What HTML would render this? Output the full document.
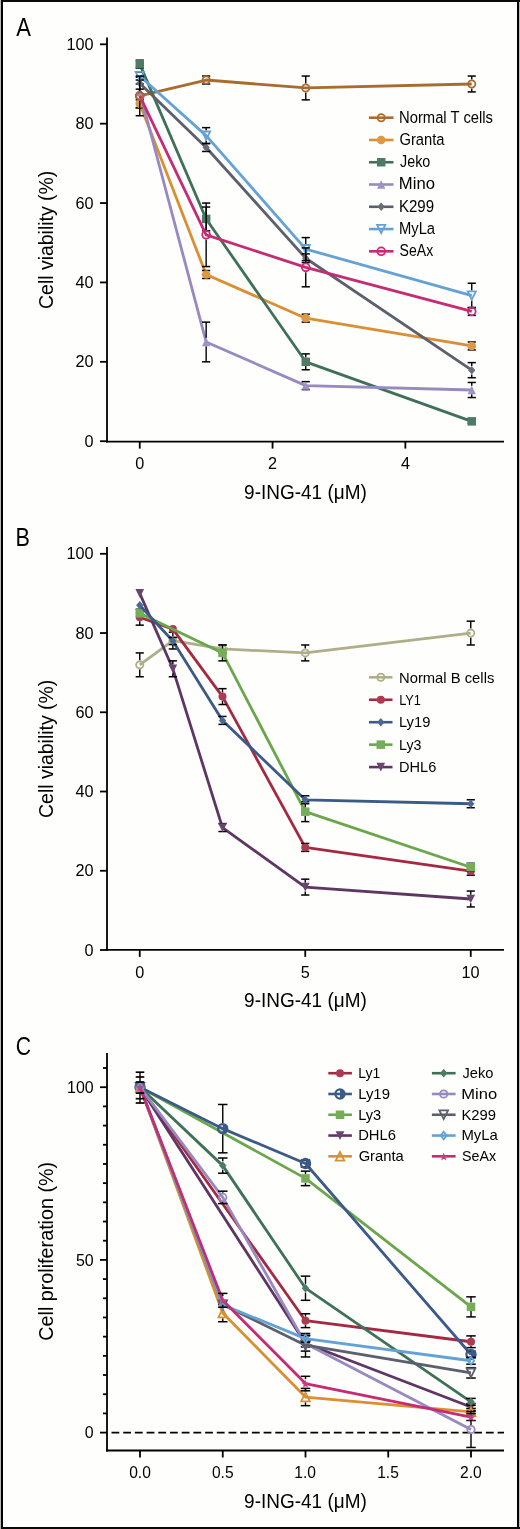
<!DOCTYPE html><html><head><meta charset="utf-8"><style>html,body{margin:0;padding:0;background:#fefefd;overflow:hidden;}svg{display:block;-webkit-font-smoothing:antialiased;will-change:transform;}</style></head><body>
<svg width="520" height="1529" viewBox="0 0 520 1529" font-family='"Liberation Sans", sans-serif'>
<rect x="0" y="0" width="520" height="1529" fill="#fefefd"/>
<line x1="107.0" y1="37.5" x2="107.0" y2="442.5" stroke="#000" stroke-width="1.8"/>
<line x1="106.1" y1="441.6" x2="504.0" y2="441.6" stroke="#000" stroke-width="1.8"/>
<line x1="100.00" y1="441.20" x2="107.00" y2="441.20" stroke="#000" stroke-width="1.8"/>
<text x="84.59" y="446.80" font-size="16.25" textLength="9.04" lengthAdjust="spacingAndGlyphs" fill="#000" >0</text>
<line x1="100.00" y1="361.82" x2="107.00" y2="361.82" stroke="#000" stroke-width="1.8"/>
<text x="75.57" y="367.42" font-size="16.25" textLength="18.08" lengthAdjust="spacingAndGlyphs" fill="#000" >20</text>
<line x1="100.00" y1="282.44" x2="107.00" y2="282.44" stroke="#000" stroke-width="1.8"/>
<text x="75.57" y="288.04" font-size="16.25" textLength="18.08" lengthAdjust="spacingAndGlyphs" fill="#000" >40</text>
<line x1="100.00" y1="203.06" x2="107.00" y2="203.06" stroke="#000" stroke-width="1.8"/>
<text x="75.57" y="208.66" font-size="16.25" textLength="18.08" lengthAdjust="spacingAndGlyphs" fill="#000" >60</text>
<line x1="100.00" y1="123.68" x2="107.00" y2="123.68" stroke="#000" stroke-width="1.8"/>
<text x="75.57" y="129.28" font-size="16.25" textLength="18.08" lengthAdjust="spacingAndGlyphs" fill="#000" >80</text>
<line x1="100.00" y1="44.30" x2="107.00" y2="44.30" stroke="#000" stroke-width="1.8"/>
<text x="66.51" y="49.90" font-size="16.25" textLength="27.12" lengthAdjust="spacingAndGlyphs" fill="#000" >100</text>
<line x1="139.75" y1="441.60" x2="139.75" y2="448.60" stroke="#000" stroke-width="1.8"/>
<text x="135.22" y="468.80" font-size="16.25" textLength="9.04" lengthAdjust="spacingAndGlyphs" fill="#000" >0</text>
<line x1="272.55" y1="441.60" x2="272.55" y2="448.60" stroke="#000" stroke-width="1.8"/>
<text x="268.04" y="468.80" font-size="16.25" textLength="9.04" lengthAdjust="spacingAndGlyphs" fill="#000" >2</text>
<line x1="405.35" y1="441.60" x2="405.35" y2="448.60" stroke="#000" stroke-width="1.8"/>
<text x="400.88" y="468.80" font-size="16.25" textLength="9.04" lengthAdjust="spacingAndGlyphs" fill="#000" >4</text>
<text x="244.10" y="498.50" font-size="20.51" textLength="122.70" lengthAdjust="spacingAndGlyphs" fill="#000" >9-ING-41 (μM)</text>
<text transform="translate(52.90,308.00) rotate(-90)" x="-0.97" y="0" font-size="20.65" textLength="138.29" lengthAdjust="spacingAndGlyphs">Cell viability (%)</text>
<text x="16.14" y="36.20" font-size="24.87" textLength="14.70" lengthAdjust="spacingAndGlyphs" fill="#000" >A</text>
<polyline points="139.75,95.90 206.15,80.02 305.75,87.96 471.75,83.99" fill="none" stroke="#A86C30" stroke-width="2.8" stroke-linejoin="round"/>
<line x1="139.75" y1="83.99" x2="139.75" y2="91.40" stroke="#000" stroke-width="1.4"/>
<line x1="139.75" y1="100.40" x2="139.75" y2="107.80" stroke="#000" stroke-width="1.4"/>
<line x1="135.65" y1="83.99" x2="143.85" y2="83.99" stroke="#000" stroke-width="1.5"/>
<line x1="135.65" y1="107.80" x2="143.85" y2="107.80" stroke="#000" stroke-width="1.5"/>
<line x1="202.05" y1="76.05" x2="210.25" y2="76.05" stroke="#000" stroke-width="1.5"/>
<line x1="202.05" y1="83.99" x2="210.25" y2="83.99" stroke="#000" stroke-width="1.5"/>
<line x1="305.75" y1="76.05" x2="305.75" y2="83.46" stroke="#000" stroke-width="1.4"/>
<line x1="305.75" y1="92.46" x2="305.75" y2="99.87" stroke="#000" stroke-width="1.4"/>
<line x1="301.65" y1="76.05" x2="309.85" y2="76.05" stroke="#000" stroke-width="1.5"/>
<line x1="301.65" y1="99.87" x2="309.85" y2="99.87" stroke="#000" stroke-width="1.5"/>
<line x1="471.75" y1="76.05" x2="471.75" y2="79.49" stroke="#000" stroke-width="1.4"/>
<line x1="471.75" y1="88.49" x2="471.75" y2="91.93" stroke="#000" stroke-width="1.4"/>
<line x1="467.65" y1="76.05" x2="475.85" y2="76.05" stroke="#000" stroke-width="1.5"/>
<line x1="467.65" y1="91.93" x2="475.85" y2="91.93" stroke="#000" stroke-width="1.5"/>
<circle cx="139.75" cy="95.90" r="3.60" fill="none" stroke="#A86C30" stroke-width="1.8"/>
<circle cx="206.15" cy="80.02" r="3.60" fill="none" stroke="#A86C30" stroke-width="1.8"/>
<circle cx="305.75" cy="87.96" r="3.60" fill="none" stroke="#A86C30" stroke-width="1.8"/>
<circle cx="471.75" cy="83.99" r="3.60" fill="none" stroke="#A86C30" stroke-width="1.8"/>
<polyline points="139.75,103.83 206.15,274.50 305.75,318.16 471.75,345.94" fill="none" stroke="#D98F32" stroke-width="2.8" stroke-linejoin="round"/>
<line x1="135.65" y1="99.87" x2="143.85" y2="99.87" stroke="#000" stroke-width="1.5"/>
<line x1="135.65" y1="107.80" x2="143.85" y2="107.80" stroke="#000" stroke-width="1.5"/>
<line x1="202.05" y1="270.53" x2="210.25" y2="270.53" stroke="#000" stroke-width="1.5"/>
<line x1="202.05" y1="278.47" x2="210.25" y2="278.47" stroke="#000" stroke-width="1.5"/>
<line x1="301.65" y1="314.19" x2="309.85" y2="314.19" stroke="#000" stroke-width="1.5"/>
<line x1="301.65" y1="322.13" x2="309.85" y2="322.13" stroke="#000" stroke-width="1.5"/>
<line x1="467.65" y1="341.98" x2="475.85" y2="341.98" stroke="#000" stroke-width="1.5"/>
<line x1="467.65" y1="349.91" x2="475.85" y2="349.91" stroke="#000" stroke-width="1.5"/>
<circle cx="139.75" cy="103.83" r="4.30" fill="#dc9842"/>
<circle cx="206.15" cy="274.50" r="4.30" fill="#dc9842"/>
<circle cx="305.75" cy="318.16" r="4.30" fill="#dc9842"/>
<circle cx="471.75" cy="345.94" r="4.30" fill="#dc9842"/>
<polyline points="139.75,64.14 206.15,218.94 305.75,361.82 471.75,421.36" fill="none" stroke="#3F7058" stroke-width="2.8" stroke-linejoin="round"/>
<line x1="135.65" y1="60.18" x2="143.85" y2="60.18" stroke="#000" stroke-width="1.5"/>
<line x1="135.65" y1="68.11" x2="143.85" y2="68.11" stroke="#000" stroke-width="1.5"/>
<line x1="206.15" y1="207.03" x2="206.15" y2="214.69" stroke="#000" stroke-width="1.4"/>
<line x1="206.15" y1="223.19" x2="206.15" y2="230.84" stroke="#000" stroke-width="1.4"/>
<line x1="202.05" y1="207.03" x2="210.25" y2="207.03" stroke="#000" stroke-width="1.5"/>
<line x1="202.05" y1="230.84" x2="210.25" y2="230.84" stroke="#000" stroke-width="1.5"/>
<line x1="305.75" y1="353.88" x2="305.75" y2="357.57" stroke="#000" stroke-width="1.4"/>
<line x1="305.75" y1="366.07" x2="305.75" y2="369.76" stroke="#000" stroke-width="1.4"/>
<line x1="301.65" y1="353.88" x2="309.85" y2="353.88" stroke="#000" stroke-width="1.5"/>
<line x1="301.65" y1="369.76" x2="309.85" y2="369.76" stroke="#000" stroke-width="1.5"/>
<line x1="467.65" y1="419.37" x2="475.85" y2="419.37" stroke="#000" stroke-width="1.5"/>
<line x1="467.65" y1="423.34" x2="475.85" y2="423.34" stroke="#000" stroke-width="1.5"/>
<rect x="135.50" y="59.89" width="8.5" height="8.5" fill="#4e7b65"/>
<rect x="201.90" y="214.69" width="8.5" height="8.5" fill="#4e7b65"/>
<rect x="301.50" y="357.57" width="8.5" height="8.5" fill="#4e7b65"/>
<rect x="467.50" y="417.11" width="8.5" height="8.5" fill="#4e7b65"/>
<polyline points="139.75,91.93 206.15,341.98 305.75,385.63 471.75,390.00" fill="none" stroke="#9889C0" stroke-width="2.8" stroke-linejoin="round"/>
<line x1="206.15" y1="322.13" x2="206.15" y2="337.78" stroke="#000" stroke-width="1.4"/>
<line x1="206.15" y1="346.18" x2="206.15" y2="361.82" stroke="#000" stroke-width="1.4"/>
<line x1="202.05" y1="322.13" x2="210.25" y2="322.13" stroke="#000" stroke-width="1.5"/>
<line x1="202.05" y1="361.82" x2="210.25" y2="361.82" stroke="#000" stroke-width="1.5"/>
<line x1="301.65" y1="381.66" x2="309.85" y2="381.66" stroke="#000" stroke-width="1.5"/>
<line x1="301.65" y1="389.60" x2="309.85" y2="389.60" stroke="#000" stroke-width="1.5"/>
<line x1="471.75" y1="382.46" x2="471.75" y2="385.80" stroke="#000" stroke-width="1.4"/>
<line x1="471.75" y1="394.20" x2="471.75" y2="397.54" stroke="#000" stroke-width="1.4"/>
<line x1="467.65" y1="382.46" x2="475.85" y2="382.46" stroke="#000" stroke-width="1.5"/>
<line x1="467.65" y1="397.54" x2="475.85" y2="397.54" stroke="#000" stroke-width="1.5"/>
<path d="M139.75,87.73 L143.95,96.13 L135.55,96.13 Z" fill="#a092c5"/>
<path d="M206.15,337.78 L210.35,346.18 L201.95,346.18 Z" fill="#a092c5"/>
<path d="M305.75,381.43 L309.95,389.83 L301.55,389.83 Z" fill="#a092c5"/>
<path d="M471.75,385.80 L475.95,394.20 L467.55,394.20 Z" fill="#a092c5"/>
<polyline points="139.75,83.20 206.15,147.49 305.75,258.23 471.75,370.15" fill="none" stroke="#5C606C" stroke-width="2.8" stroke-linejoin="round"/>
<line x1="139.75" y1="77.24" x2="139.75" y2="78.95" stroke="#000" stroke-width="1.4"/>
<line x1="139.75" y1="87.45" x2="139.75" y2="89.15" stroke="#000" stroke-width="1.4"/>
<line x1="135.65" y1="77.24" x2="143.85" y2="77.24" stroke="#000" stroke-width="1.5"/>
<line x1="135.65" y1="89.15" x2="143.85" y2="89.15" stroke="#000" stroke-width="1.5"/>
<line x1="202.05" y1="143.52" x2="210.25" y2="143.52" stroke="#000" stroke-width="1.5"/>
<line x1="202.05" y1="151.46" x2="210.25" y2="151.46" stroke="#000" stroke-width="1.5"/>
<line x1="305.75" y1="253.86" x2="305.75" y2="253.98" stroke="#000" stroke-width="1.4"/>
<line x1="305.75" y1="262.48" x2="305.75" y2="262.60" stroke="#000" stroke-width="1.4"/>
<line x1="301.65" y1="253.86" x2="309.85" y2="253.86" stroke="#000" stroke-width="1.5"/>
<line x1="301.65" y1="262.60" x2="309.85" y2="262.60" stroke="#000" stroke-width="1.5"/>
<line x1="471.75" y1="362.61" x2="471.75" y2="365.90" stroke="#000" stroke-width="1.4"/>
<line x1="471.75" y1="374.40" x2="471.75" y2="377.70" stroke="#000" stroke-width="1.4"/>
<line x1="467.65" y1="362.61" x2="475.85" y2="362.61" stroke="#000" stroke-width="1.5"/>
<line x1="467.65" y1="377.70" x2="475.85" y2="377.70" stroke="#000" stroke-width="1.5"/>
<path d="M139.75,78.95 L143.36,83.20 L139.75,87.45 L136.14,83.20 Z" fill="#696d78"/>
<path d="M206.15,143.24 L209.76,147.49 L206.15,151.74 L202.54,147.49 Z" fill="#696d78"/>
<path d="M305.75,253.98 L309.36,258.23 L305.75,262.48 L302.14,258.23 Z" fill="#696d78"/>
<path d="M471.75,365.90 L475.36,370.15 L471.75,374.40 L468.14,370.15 Z" fill="#696d78"/>
<polyline points="139.75,76.05 206.15,135.59 305.75,249.10 471.75,295.54" fill="none" stroke="#64A2D6" stroke-width="2.8" stroke-linejoin="round"/>
<line x1="135.65" y1="72.08" x2="143.85" y2="72.08" stroke="#000" stroke-width="1.5"/>
<line x1="135.65" y1="80.02" x2="143.85" y2="80.02" stroke="#000" stroke-width="1.5"/>
<line x1="206.15" y1="127.65" x2="206.15" y2="130.59" stroke="#000" stroke-width="1.4"/>
<line x1="206.15" y1="140.59" x2="206.15" y2="143.52" stroke="#000" stroke-width="1.4"/>
<line x1="202.05" y1="127.65" x2="210.25" y2="127.65" stroke="#000" stroke-width="1.5"/>
<line x1="202.05" y1="143.52" x2="210.25" y2="143.52" stroke="#000" stroke-width="1.5"/>
<line x1="305.75" y1="237.59" x2="305.75" y2="244.10" stroke="#000" stroke-width="1.4"/>
<line x1="305.75" y1="254.10" x2="305.75" y2="260.61" stroke="#000" stroke-width="1.4"/>
<line x1="301.65" y1="237.59" x2="309.85" y2="237.59" stroke="#000" stroke-width="1.5"/>
<line x1="301.65" y1="260.61" x2="309.85" y2="260.61" stroke="#000" stroke-width="1.5"/>
<line x1="471.75" y1="283.23" x2="471.75" y2="290.54" stroke="#000" stroke-width="1.4"/>
<line x1="471.75" y1="300.54" x2="471.75" y2="307.84" stroke="#000" stroke-width="1.4"/>
<line x1="467.65" y1="283.23" x2="475.85" y2="283.23" stroke="#000" stroke-width="1.5"/>
<line x1="467.65" y1="307.84" x2="475.85" y2="307.84" stroke="#000" stroke-width="1.5"/>
<path d="M139.75,80.15 L143.85,71.95 L135.65,71.95 Z" fill="none" stroke="#64A2D6" stroke-width="1.8"/>
<path d="M206.15,139.69 L210.25,131.49 L202.05,131.49 Z" fill="none" stroke="#64A2D6" stroke-width="1.8"/>
<path d="M305.75,253.20 L309.85,245.00 L301.65,245.00 Z" fill="none" stroke="#64A2D6" stroke-width="1.8"/>
<path d="M471.75,299.64 L475.85,291.44 L467.65,291.44 Z" fill="none" stroke="#64A2D6" stroke-width="1.8"/>
<polyline points="139.75,95.90 206.15,234.81 305.75,267.36 471.75,311.41" fill="none" stroke="#C42C74" stroke-width="2.8" stroke-linejoin="round"/>
<line x1="139.75" y1="76.05" x2="139.75" y2="91.10" stroke="#000" stroke-width="1.4"/>
<line x1="139.75" y1="100.70" x2="139.75" y2="115.74" stroke="#000" stroke-width="1.4"/>
<line x1="135.65" y1="76.05" x2="143.85" y2="76.05" stroke="#000" stroke-width="1.5"/>
<line x1="135.65" y1="115.74" x2="143.85" y2="115.74" stroke="#000" stroke-width="1.5"/>
<line x1="206.15" y1="203.06" x2="206.15" y2="230.01" stroke="#000" stroke-width="1.4"/>
<line x1="206.15" y1="239.61" x2="206.15" y2="266.56" stroke="#000" stroke-width="1.4"/>
<line x1="202.05" y1="203.06" x2="210.25" y2="203.06" stroke="#000" stroke-width="1.5"/>
<line x1="202.05" y1="266.56" x2="210.25" y2="266.56" stroke="#000" stroke-width="1.5"/>
<line x1="305.75" y1="247.91" x2="305.75" y2="262.56" stroke="#000" stroke-width="1.4"/>
<line x1="305.75" y1="272.16" x2="305.75" y2="286.81" stroke="#000" stroke-width="1.4"/>
<line x1="301.65" y1="247.91" x2="309.85" y2="247.91" stroke="#000" stroke-width="1.5"/>
<line x1="301.65" y1="286.81" x2="309.85" y2="286.81" stroke="#000" stroke-width="1.5"/>
<line x1="467.65" y1="307.44" x2="475.85" y2="307.44" stroke="#000" stroke-width="1.5"/>
<line x1="467.65" y1="315.38" x2="475.85" y2="315.38" stroke="#000" stroke-width="1.5"/>
<circle cx="139.75" cy="95.90" r="3.90" fill="none" stroke="#C42C74" stroke-width="1.8"/>
<circle cx="206.15" cy="234.81" r="3.90" fill="none" stroke="#C42C74" stroke-width="1.8"/>
<circle cx="305.75" cy="267.36" r="3.90" fill="none" stroke="#C42C74" stroke-width="1.8"/>
<circle cx="471.75" cy="311.41" r="3.90" fill="none" stroke="#C42C74" stroke-width="1.8"/>
<circle cx="139.75" cy="95.90" r="3.60" fill="none" stroke="#A86C30" stroke-width="1.8"/>
<line x1="369" y1="117.70" x2="393.5" y2="117.70" stroke="#A86C30" stroke-width="2.6"/>
<circle cx="381.20" cy="117.70" r="3.60" fill="none" stroke="#A86C30" stroke-width="1.8"/>
<line x1="369" y1="139.97" x2="393.5" y2="139.97" stroke="#D98F32" stroke-width="2.6"/>
<circle cx="381.20" cy="139.97" r="4.30" fill="#dc9842"/>
<line x1="369" y1="162.24" x2="393.5" y2="162.24" stroke="#3F7058" stroke-width="2.6"/>
<rect x="376.95" y="157.99" width="8.5" height="8.5" fill="#4e7b65"/>
<line x1="369" y1="184.51" x2="393.5" y2="184.51" stroke="#9889C0" stroke-width="2.6"/>
<path d="M381.20,180.31 L385.40,188.71 L377.00,188.71 Z" fill="#a092c5"/>
<line x1="369" y1="206.78" x2="393.5" y2="206.78" stroke="#5C606C" stroke-width="2.6"/>
<path d="M381.20,202.53 L384.81,206.78 L381.20,211.03 L377.59,206.78 Z" fill="#696d78"/>
<line x1="369" y1="229.05" x2="393.5" y2="229.05" stroke="#64A2D6" stroke-width="2.6"/>
<path d="M381.20,233.15 L385.30,224.95 L377.10,224.95 Z" fill="none" stroke="#64A2D6" stroke-width="1.8"/>
<line x1="369" y1="251.32" x2="393.5" y2="251.32" stroke="#C42C74" stroke-width="2.6"/>
<circle cx="381.20" cy="251.32" r="3.90" fill="none" stroke="#C42C74" stroke-width="1.8"/>
<text x="398.98" y="122.60" font-size="15.71" textLength="94.02" lengthAdjust="spacingAndGlyphs" fill="#000" >Normal T cells</text>
<text x="399.46" y="144.87" font-size="15.71" textLength="45.07" lengthAdjust="spacingAndGlyphs" fill="#000" >Granta</text>
<text x="399.98" y="167.14" font-size="15.71" textLength="30.32" lengthAdjust="spacingAndGlyphs" fill="#000" >Jeko</text>
<text x="398.82" y="189.41" font-size="15.71" textLength="36.14" lengthAdjust="spacingAndGlyphs" fill="#000" >Mino</text>
<text x="398.96" y="211.68" font-size="15.71" textLength="35.13" lengthAdjust="spacingAndGlyphs" fill="#000" >K299</text>
<text x="398.98" y="233.95" font-size="15.71" textLength="36.12" lengthAdjust="spacingAndGlyphs" fill="#000" >MyLa</text>
<text x="399.57" y="256.22" font-size="15.71" textLength="33.61" lengthAdjust="spacingAndGlyphs" fill="#000" >SeAx</text>
<line x1="107.0" y1="547.0" x2="107.0" y2="950.8" stroke="#000" stroke-width="1.8"/>
<line x1="106.1" y1="949.9" x2="504.0" y2="949.9" stroke="#000" stroke-width="1.8"/>
<line x1="100.00" y1="950.00" x2="107.00" y2="950.00" stroke="#000" stroke-width="1.8"/>
<text x="84.59" y="955.60" font-size="16.25" textLength="9.04" lengthAdjust="spacingAndGlyphs" fill="#000" >0</text>
<line x1="100.00" y1="870.76" x2="107.00" y2="870.76" stroke="#000" stroke-width="1.8"/>
<text x="75.57" y="876.36" font-size="16.25" textLength="18.08" lengthAdjust="spacingAndGlyphs" fill="#000" >20</text>
<line x1="100.00" y1="791.52" x2="107.00" y2="791.52" stroke="#000" stroke-width="1.8"/>
<text x="75.57" y="797.12" font-size="16.25" textLength="18.08" lengthAdjust="spacingAndGlyphs" fill="#000" >40</text>
<line x1="100.00" y1="712.28" x2="107.00" y2="712.28" stroke="#000" stroke-width="1.8"/>
<text x="75.57" y="717.88" font-size="16.25" textLength="18.08" lengthAdjust="spacingAndGlyphs" fill="#000" >60</text>
<line x1="100.00" y1="633.04" x2="107.00" y2="633.04" stroke="#000" stroke-width="1.8"/>
<text x="75.57" y="638.64" font-size="16.25" textLength="18.08" lengthAdjust="spacingAndGlyphs" fill="#000" >80</text>
<line x1="100.00" y1="553.80" x2="107.00" y2="553.80" stroke="#000" stroke-width="1.8"/>
<text x="66.51" y="559.40" font-size="16.25" textLength="27.12" lengthAdjust="spacingAndGlyphs" fill="#000" >100</text>
<line x1="139.75" y1="949.90" x2="139.75" y2="956.90" stroke="#000" stroke-width="1.8"/>
<text x="135.22" y="977.60" font-size="16.25" textLength="9.04" lengthAdjust="spacingAndGlyphs" fill="#000" >0</text>
<line x1="305.25" y1="949.90" x2="305.25" y2="956.90" stroke="#000" stroke-width="1.8"/>
<text x="300.74" y="977.60" font-size="16.25" textLength="9.04" lengthAdjust="spacingAndGlyphs" fill="#000" >5</text>
<line x1="470.75" y1="949.90" x2="470.75" y2="956.90" stroke="#000" stroke-width="1.8"/>
<text x="461.42" y="977.60" font-size="16.25" textLength="18.08" lengthAdjust="spacingAndGlyphs" fill="#000" >10</text>
<text x="244.10" y="1006.90" font-size="20.51" textLength="122.70" lengthAdjust="spacingAndGlyphs" fill="#000" >9-ING-41 (μM)</text>
<text transform="translate(52.90,817.00) rotate(-90)" x="-0.97" y="0" font-size="20.65" textLength="138.29" lengthAdjust="spacingAndGlyphs">Cell viability (%)</text>
<text x="15.52" y="545.60" font-size="24.87" textLength="14.40" lengthAdjust="spacingAndGlyphs" fill="#000" >B</text>
<polyline points="139.75,664.83 172.85,640.62 222.50,648.96 305.25,652.92 470.75,633.08" fill="none" stroke="#AEAF88" stroke-width="2.8" stroke-linejoin="round"/>
<line x1="139.75" y1="652.92" x2="139.75" y2="660.33" stroke="#000" stroke-width="1.4"/>
<line x1="139.75" y1="669.33" x2="139.75" y2="676.74" stroke="#000" stroke-width="1.4"/>
<line x1="135.65" y1="652.92" x2="143.85" y2="652.92" stroke="#000" stroke-width="1.5"/>
<line x1="135.65" y1="676.74" x2="143.85" y2="676.74" stroke="#000" stroke-width="1.5"/>
<line x1="172.85" y1="632.29" x2="172.85" y2="636.12" stroke="#000" stroke-width="1.4"/>
<line x1="172.85" y1="645.12" x2="172.85" y2="648.96" stroke="#000" stroke-width="1.4"/>
<line x1="168.75" y1="632.29" x2="176.95" y2="632.29" stroke="#000" stroke-width="1.5"/>
<line x1="168.75" y1="648.96" x2="176.95" y2="648.96" stroke="#000" stroke-width="1.5"/>
<line x1="218.40" y1="644.99" x2="226.60" y2="644.99" stroke="#000" stroke-width="1.5"/>
<line x1="218.40" y1="652.92" x2="226.60" y2="652.92" stroke="#000" stroke-width="1.5"/>
<line x1="305.25" y1="644.99" x2="305.25" y2="648.42" stroke="#000" stroke-width="1.4"/>
<line x1="305.25" y1="657.42" x2="305.25" y2="660.86" stroke="#000" stroke-width="1.4"/>
<line x1="301.15" y1="644.99" x2="309.35" y2="644.99" stroke="#000" stroke-width="1.5"/>
<line x1="301.15" y1="660.86" x2="309.35" y2="660.86" stroke="#000" stroke-width="1.5"/>
<line x1="470.75" y1="621.17" x2="470.75" y2="628.58" stroke="#000" stroke-width="1.4"/>
<line x1="470.75" y1="637.58" x2="470.75" y2="644.99" stroke="#000" stroke-width="1.4"/>
<line x1="466.65" y1="621.17" x2="474.85" y2="621.17" stroke="#000" stroke-width="1.5"/>
<line x1="466.65" y1="644.99" x2="474.85" y2="644.99" stroke="#000" stroke-width="1.5"/>
<circle cx="139.75" cy="664.83" r="3.60" fill="none" stroke="#AEAF88" stroke-width="1.8"/>
<circle cx="172.85" cy="640.62" r="3.60" fill="none" stroke="#AEAF88" stroke-width="1.8"/>
<circle cx="222.50" cy="648.96" r="3.60" fill="none" stroke="#AEAF88" stroke-width="1.8"/>
<circle cx="305.25" cy="652.92" r="3.60" fill="none" stroke="#AEAF88" stroke-width="1.8"/>
<circle cx="470.75" cy="633.08" r="3.60" fill="none" stroke="#AEAF88" stroke-width="1.8"/>
<polyline points="139.75,617.20 172.85,629.11 222.50,696.58 305.25,847.41 470.75,871.22" fill="none" stroke="#A32A42" stroke-width="2.8" stroke-linejoin="round"/>
<line x1="139.75" y1="609.27" x2="139.75" y2="613.20" stroke="#000" stroke-width="1.4"/>
<line x1="139.75" y1="621.20" x2="139.75" y2="625.14" stroke="#000" stroke-width="1.4"/>
<line x1="135.65" y1="609.27" x2="143.85" y2="609.27" stroke="#000" stroke-width="1.5"/>
<line x1="135.65" y1="625.14" x2="143.85" y2="625.14" stroke="#000" stroke-width="1.5"/>
<line x1="222.50" y1="688.65" x2="222.50" y2="692.58" stroke="#000" stroke-width="1.4"/>
<line x1="222.50" y1="700.58" x2="222.50" y2="704.52" stroke="#000" stroke-width="1.4"/>
<line x1="218.40" y1="688.65" x2="226.60" y2="688.65" stroke="#000" stroke-width="1.5"/>
<line x1="218.40" y1="704.52" x2="226.60" y2="704.52" stroke="#000" stroke-width="1.5"/>
<line x1="301.15" y1="843.44" x2="309.35" y2="843.44" stroke="#000" stroke-width="1.5"/>
<line x1="301.15" y1="851.37" x2="309.35" y2="851.37" stroke="#000" stroke-width="1.5"/>
<line x1="466.65" y1="867.25" x2="474.85" y2="867.25" stroke="#000" stroke-width="1.5"/>
<line x1="466.65" y1="875.19" x2="474.85" y2="875.19" stroke="#000" stroke-width="1.5"/>
<circle cx="139.75" cy="617.20" r="4.00" fill="#aa3b51"/>
<circle cx="172.85" cy="629.11" r="4.00" fill="#aa3b51"/>
<circle cx="222.50" cy="696.58" r="4.00" fill="#aa3b51"/>
<circle cx="305.25" cy="847.41" r="4.00" fill="#aa3b51"/>
<circle cx="470.75" cy="871.22" r="4.00" fill="#aa3b51"/>
<polyline points="139.75,593.39 172.85,668.80 222.50,827.56 305.25,887.10 470.75,899.00" fill="none" stroke="#5E3563" stroke-width="2.8" stroke-linejoin="round"/>
<line x1="172.85" y1="660.86" x2="172.85" y2="664.45" stroke="#000" stroke-width="1.4"/>
<line x1="172.85" y1="673.15" x2="172.85" y2="676.74" stroke="#000" stroke-width="1.4"/>
<line x1="168.75" y1="660.86" x2="176.95" y2="660.86" stroke="#000" stroke-width="1.5"/>
<line x1="168.75" y1="676.74" x2="176.95" y2="676.74" stroke="#000" stroke-width="1.5"/>
<line x1="218.40" y1="823.59" x2="226.60" y2="823.59" stroke="#000" stroke-width="1.5"/>
<line x1="218.40" y1="831.53" x2="226.60" y2="831.53" stroke="#000" stroke-width="1.5"/>
<line x1="305.25" y1="879.16" x2="305.25" y2="882.75" stroke="#000" stroke-width="1.4"/>
<line x1="305.25" y1="891.45" x2="305.25" y2="895.03" stroke="#000" stroke-width="1.4"/>
<line x1="301.15" y1="879.16" x2="309.35" y2="879.16" stroke="#000" stroke-width="1.5"/>
<line x1="301.15" y1="895.03" x2="309.35" y2="895.03" stroke="#000" stroke-width="1.5"/>
<line x1="470.75" y1="891.06" x2="470.75" y2="894.65" stroke="#000" stroke-width="1.4"/>
<line x1="470.75" y1="903.35" x2="470.75" y2="906.94" stroke="#000" stroke-width="1.4"/>
<line x1="466.65" y1="891.06" x2="474.85" y2="891.06" stroke="#000" stroke-width="1.5"/>
<line x1="466.65" y1="906.94" x2="474.85" y2="906.94" stroke="#000" stroke-width="1.5"/>
<path d="M139.75,597.74 L144.10,589.04 L135.40,589.04 Z" fill="#6b456f"/>
<path d="M172.85,673.15 L177.20,664.45 L168.50,664.45 Z" fill="#6b456f"/>
<path d="M222.50,831.91 L226.85,823.21 L218.15,823.21 Z" fill="#6b456f"/>
<path d="M305.25,891.45 L309.60,882.75 L300.90,882.75 Z" fill="#6b456f"/>
<path d="M470.75,903.35 L475.10,894.65 L466.40,894.65 Z" fill="#6b456f"/>
<polyline points="139.75,613.23 222.50,652.92 305.25,811.68 470.75,867.25" fill="none" stroke="#6AA64A" stroke-width="2.8" stroke-linejoin="round"/>
<line x1="222.50" y1="644.99" x2="222.50" y2="648.67" stroke="#000" stroke-width="1.4"/>
<line x1="222.50" y1="657.17" x2="222.50" y2="660.86" stroke="#000" stroke-width="1.4"/>
<line x1="218.40" y1="644.99" x2="226.60" y2="644.99" stroke="#000" stroke-width="1.5"/>
<line x1="218.40" y1="660.86" x2="226.60" y2="660.86" stroke="#000" stroke-width="1.5"/>
<line x1="305.25" y1="801.76" x2="305.25" y2="807.43" stroke="#000" stroke-width="1.4"/>
<line x1="305.25" y1="815.93" x2="305.25" y2="821.61" stroke="#000" stroke-width="1.4"/>
<line x1="301.15" y1="801.76" x2="309.35" y2="801.76" stroke="#000" stroke-width="1.5"/>
<line x1="301.15" y1="821.61" x2="309.35" y2="821.61" stroke="#000" stroke-width="1.5"/>
<line x1="466.65" y1="863.28" x2="474.85" y2="863.28" stroke="#000" stroke-width="1.5"/>
<line x1="466.65" y1="871.22" x2="474.85" y2="871.22" stroke="#000" stroke-width="1.5"/>
<rect x="135.50" y="608.98" width="8.5" height="8.5" fill="#76ad58"/>
<rect x="218.25" y="648.67" width="8.5" height="8.5" fill="#76ad58"/>
<rect x="301.00" y="807.43" width="8.5" height="8.5" fill="#76ad58"/>
<rect x="466.50" y="863.00" width="8.5" height="8.5" fill="#76ad58"/>
<polyline points="139.75,605.30 172.85,641.02 222.50,720.40 305.25,799.78 470.75,803.75" fill="none" stroke="#3B5A88" stroke-width="2.8" stroke-linejoin="round"/>
<line x1="168.75" y1="637.45" x2="176.95" y2="637.45" stroke="#000" stroke-width="1.5"/>
<line x1="168.75" y1="644.59" x2="176.95" y2="644.59" stroke="#000" stroke-width="1.5"/>
<line x1="218.40" y1="716.43" x2="226.60" y2="716.43" stroke="#000" stroke-width="1.5"/>
<line x1="218.40" y1="724.37" x2="226.60" y2="724.37" stroke="#000" stroke-width="1.5"/>
<line x1="301.15" y1="795.81" x2="309.35" y2="795.81" stroke="#000" stroke-width="1.5"/>
<line x1="301.15" y1="803.75" x2="309.35" y2="803.75" stroke="#000" stroke-width="1.5"/>
<line x1="466.65" y1="799.78" x2="474.85" y2="799.78" stroke="#000" stroke-width="1.5"/>
<line x1="466.65" y1="807.72" x2="474.85" y2="807.72" stroke="#000" stroke-width="1.5"/>
<path d="M139.75,601.05 L143.36,605.30 L139.75,609.55 L136.14,605.30 Z" fill="#4b6792"/>
<path d="M172.85,636.77 L176.46,641.02 L172.85,645.27 L169.24,641.02 Z" fill="#4b6792"/>
<path d="M222.50,716.15 L226.11,720.40 L222.50,724.65 L218.89,720.40 Z" fill="#4b6792"/>
<path d="M305.25,795.53 L308.86,799.78 L305.25,804.03 L301.64,799.78 Z" fill="#4b6792"/>
<path d="M470.75,799.50 L474.36,803.75 L470.75,808.00 L467.14,803.75 Z" fill="#4b6792"/>
<line x1="369" y1="677.30" x2="392.5" y2="677.30" stroke="#AEAF88" stroke-width="2.6"/>
<circle cx="380.80" cy="677.30" r="3.60" fill="none" stroke="#AEAF88" stroke-width="1.8"/>
<text x="398.98" y="682.50" font-size="15.56" textLength="95.35" lengthAdjust="spacingAndGlyphs" fill="#000" >Normal B cells</text>
<line x1="369" y1="699.75" x2="392.5" y2="699.75" stroke="#A32A42" stroke-width="2.6"/>
<circle cx="380.80" cy="699.75" r="4.00" fill="#aa3b51"/>
<text x="399.15" y="704.95" font-size="15.56" textLength="21.76" lengthAdjust="spacingAndGlyphs" fill="#000" >LY1</text>
<line x1="369" y1="722.20" x2="392.5" y2="722.20" stroke="#3B5A88" stroke-width="2.6"/>
<path d="M380.80,717.95 L384.41,722.20 L380.80,726.45 L377.19,722.20 Z" fill="#4b6792"/>
<text x="398.98" y="727.40" font-size="15.56" textLength="31.40" lengthAdjust="spacingAndGlyphs" fill="#000" >Ly19</text>
<line x1="369" y1="744.65" x2="392.5" y2="744.65" stroke="#6AA64A" stroke-width="2.6"/>
<rect x="376.55" y="740.40" width="8.5" height="8.5" fill="#76ad58"/>
<text x="399.03" y="749.85" font-size="15.56" textLength="22.38" lengthAdjust="spacingAndGlyphs" fill="#000" >Ly3</text>
<line x1="369" y1="767.10" x2="392.5" y2="767.10" stroke="#5E3563" stroke-width="2.6"/>
<path d="M380.80,771.45 L385.15,762.75 L376.45,762.75 Z" fill="#6b456f"/>
<text x="399.00" y="772.30" font-size="15.56" textLength="37.25" lengthAdjust="spacingAndGlyphs" fill="#000" >DHL6</text>
<line x1="107.0" y1="1053.0" x2="107.0" y2="1451.4" stroke="#000" stroke-width="1.8"/>
<line x1="106.1" y1="1450.5" x2="504.0" y2="1450.5" stroke="#000" stroke-width="1.8"/>
<line x1="100.00" y1="1432.60" x2="107.00" y2="1432.60" stroke="#000" stroke-width="1.8"/>
<text x="84.83" y="1438.20" font-size="15.97" textLength="8.88" lengthAdjust="spacingAndGlyphs" fill="#000" >0</text>
<line x1="100.00" y1="1259.90" x2="107.00" y2="1259.90" stroke="#000" stroke-width="1.8"/>
<text x="75.97" y="1265.50" font-size="15.97" textLength="17.77" lengthAdjust="spacingAndGlyphs" fill="#000" >50</text>
<line x1="100.00" y1="1087.20" x2="107.00" y2="1087.20" stroke="#000" stroke-width="1.8"/>
<text x="67.07" y="1092.80" font-size="15.97" textLength="26.65" lengthAdjust="spacingAndGlyphs" fill="#000" >100</text>
<line x1="103.00" y1="1413.41" x2="107.00" y2="1413.41" stroke="#000" stroke-width="1.8"/>
<line x1="103.00" y1="1394.22" x2="107.00" y2="1394.22" stroke="#000" stroke-width="1.8"/>
<line x1="103.00" y1="1375.03" x2="107.00" y2="1375.03" stroke="#000" stroke-width="1.8"/>
<line x1="103.00" y1="1355.84" x2="107.00" y2="1355.84" stroke="#000" stroke-width="1.8"/>
<line x1="103.00" y1="1336.66" x2="107.00" y2="1336.66" stroke="#000" stroke-width="1.8"/>
<line x1="103.00" y1="1317.47" x2="107.00" y2="1317.47" stroke="#000" stroke-width="1.8"/>
<line x1="103.00" y1="1298.28" x2="107.00" y2="1298.28" stroke="#000" stroke-width="1.8"/>
<line x1="103.00" y1="1279.09" x2="107.00" y2="1279.09" stroke="#000" stroke-width="1.8"/>
<line x1="103.00" y1="1240.71" x2="107.00" y2="1240.71" stroke="#000" stroke-width="1.8"/>
<line x1="103.00" y1="1221.52" x2="107.00" y2="1221.52" stroke="#000" stroke-width="1.8"/>
<line x1="103.00" y1="1202.33" x2="107.00" y2="1202.33" stroke="#000" stroke-width="1.8"/>
<line x1="103.00" y1="1183.14" x2="107.00" y2="1183.14" stroke="#000" stroke-width="1.8"/>
<line x1="103.00" y1="1163.96" x2="107.00" y2="1163.96" stroke="#000" stroke-width="1.8"/>
<line x1="103.00" y1="1144.77" x2="107.00" y2="1144.77" stroke="#000" stroke-width="1.8"/>
<line x1="103.00" y1="1125.58" x2="107.00" y2="1125.58" stroke="#000" stroke-width="1.8"/>
<line x1="103.00" y1="1106.39" x2="107.00" y2="1106.39" stroke="#000" stroke-width="1.8"/>
<line x1="103.00" y1="1068.01" x2="107.00" y2="1068.01" stroke="#000" stroke-width="1.8"/>
<line x1="140.00" y1="1450.50" x2="140.00" y2="1457.50" stroke="#000" stroke-width="1.8"/>
<text x="129.14" y="1477.60" font-size="16.25" textLength="21.69" lengthAdjust="spacingAndGlyphs" fill="#000" >0.0</text>
<line x1="222.75" y1="1450.50" x2="222.75" y2="1457.50" stroke="#000" stroke-width="1.8"/>
<text x="211.91" y="1477.60" font-size="16.25" textLength="21.69" lengthAdjust="spacingAndGlyphs" fill="#000" >0.5</text>
<line x1="305.50" y1="1450.50" x2="305.50" y2="1457.50" stroke="#000" stroke-width="1.8"/>
<text x="294.36" y="1477.60" font-size="16.25" textLength="21.69" lengthAdjust="spacingAndGlyphs" fill="#000" >1.0</text>
<line x1="388.25" y1="1450.50" x2="388.25" y2="1457.50" stroke="#000" stroke-width="1.8"/>
<text x="377.13" y="1477.60" font-size="16.25" textLength="21.69" lengthAdjust="spacingAndGlyphs" fill="#000" >1.5</text>
<line x1="471.00" y1="1450.50" x2="471.00" y2="1457.50" stroke="#000" stroke-width="1.8"/>
<text x="460.06" y="1477.60" font-size="16.25" textLength="21.69" lengthAdjust="spacingAndGlyphs" fill="#000" >2.0</text>
<text x="244.10" y="1508.30" font-size="20.51" textLength="122.70" lengthAdjust="spacingAndGlyphs" fill="#000" >9-ING-41 (μM)</text>
<text transform="translate(53.30,1339.70) rotate(-90)" x="-0.99" y="0" font-size="20.65" textLength="178.85" lengthAdjust="spacingAndGlyphs">Cell proliferation (%)</text>
<text x="15.74" y="1054.80" font-size="25.16" textLength="15.30" lengthAdjust="spacingAndGlyphs" fill="#000" >C</text>
<line x1="111.5" y1="1432.60" x2="504" y2="1432.60" stroke="#000" stroke-width="1.8" stroke-dasharray="7.8 3.9"/>
<polyline points="140.00,1087.20 305.50,1178.39 471.00,1306.87" fill="none" stroke="#6AA64A" stroke-width="2.8" stroke-linejoin="round"/>
<line x1="305.50" y1="1171.13" x2="305.50" y2="1174.14" stroke="#000" stroke-width="1.4"/>
<line x1="305.50" y1="1182.64" x2="305.50" y2="1185.64" stroke="#000" stroke-width="1.4"/>
<line x1="300.75" y1="1171.13" x2="310.25" y2="1171.13" stroke="#000" stroke-width="1.5"/>
<line x1="300.75" y1="1185.64" x2="310.25" y2="1185.64" stroke="#000" stroke-width="1.5"/>
<line x1="471.00" y1="1296.86" x2="471.00" y2="1302.62" stroke="#000" stroke-width="1.4"/>
<line x1="471.00" y1="1311.12" x2="471.00" y2="1316.89" stroke="#000" stroke-width="1.4"/>
<line x1="466.25" y1="1296.86" x2="475.75" y2="1296.86" stroke="#000" stroke-width="1.5"/>
<line x1="466.25" y1="1316.89" x2="475.75" y2="1316.89" stroke="#000" stroke-width="1.5"/>
<rect x="135.75" y="1082.95" width="8.5" height="8.5" fill="#76ad58"/>
<rect x="301.25" y="1174.14" width="8.5" height="8.5" fill="#76ad58"/>
<rect x="466.75" y="1302.62" width="8.5" height="8.5" fill="#76ad58"/>
<polyline points="140.00,1087.20 305.50,1320.69 471.00,1341.76" fill="none" stroke="#A32A42" stroke-width="2.8" stroke-linejoin="round"/>
<line x1="305.50" y1="1313.78" x2="305.50" y2="1316.69" stroke="#000" stroke-width="1.4"/>
<line x1="305.50" y1="1324.69" x2="305.50" y2="1327.60" stroke="#000" stroke-width="1.4"/>
<line x1="300.75" y1="1313.78" x2="310.25" y2="1313.78" stroke="#000" stroke-width="1.5"/>
<line x1="300.75" y1="1327.60" x2="310.25" y2="1327.60" stroke="#000" stroke-width="1.5"/>
<line x1="471.00" y1="1335.89" x2="471.00" y2="1337.76" stroke="#000" stroke-width="1.4"/>
<line x1="471.00" y1="1345.76" x2="471.00" y2="1347.63" stroke="#000" stroke-width="1.4"/>
<line x1="466.25" y1="1335.89" x2="475.75" y2="1335.89" stroke="#000" stroke-width="1.5"/>
<line x1="466.25" y1="1347.63" x2="475.75" y2="1347.63" stroke="#000" stroke-width="1.5"/>
<circle cx="140.00" cy="1087.20" r="4.00" fill="#aa3b51"/>
<circle cx="305.50" cy="1320.69" r="4.00" fill="#aa3b51"/>
<circle cx="471.00" cy="1341.76" r="4.00" fill="#aa3b51"/>
<polyline points="140.00,1087.20 222.75,1128.65 305.50,1163.53 471.00,1354.54" fill="none" stroke="#3B5A88" stroke-width="2.8" stroke-linejoin="round"/>
<line x1="222.75" y1="1104.47" x2="222.75" y2="1122.95" stroke="#000" stroke-width="1.4"/>
<line x1="222.75" y1="1134.35" x2="222.75" y2="1152.83" stroke="#000" stroke-width="1.4"/>
<line x1="218.00" y1="1104.47" x2="227.50" y2="1104.47" stroke="#000" stroke-width="1.5"/>
<line x1="218.00" y1="1152.83" x2="227.50" y2="1152.83" stroke="#000" stroke-width="1.5"/>
<line x1="300.75" y1="1160.08" x2="310.25" y2="1160.08" stroke="#000" stroke-width="1.5"/>
<line x1="300.75" y1="1166.99" x2="310.25" y2="1166.99" stroke="#000" stroke-width="1.5"/>
<line x1="466.25" y1="1351.09" x2="475.75" y2="1351.09" stroke="#000" stroke-width="1.5"/>
<line x1="466.25" y1="1357.99" x2="475.75" y2="1357.99" stroke="#000" stroke-width="1.5"/>
<circle cx="140.00" cy="1087.20" r="4.55" fill="none" stroke="#3B5A88" stroke-width="2.3"/>
<path d="M140.00,1082.65 A4.55,4.55 0 0 1 140.00,1091.75 Z" fill="#3B5A88"/>
<circle cx="222.75" cy="1128.65" r="4.55" fill="none" stroke="#3B5A88" stroke-width="2.3"/>
<path d="M222.75,1124.10 A4.55,4.55 0 0 1 222.75,1133.20 Z" fill="#3B5A88"/>
<circle cx="305.50" cy="1163.53" r="4.55" fill="none" stroke="#3B5A88" stroke-width="2.3"/>
<path d="M305.50,1158.98 A4.55,4.55 0 0 1 305.50,1168.08 Z" fill="#3B5A88"/>
<circle cx="471.00" cy="1354.54" r="4.55" fill="none" stroke="#3B5A88" stroke-width="2.3"/>
<path d="M471.00,1349.99 A4.55,4.55 0 0 1 471.00,1359.09 Z" fill="#3B5A88"/>
<polyline points="140.00,1087.20 305.50,1343.49 471.00,1407.04" fill="none" stroke="#5E3563" stroke-width="2.8" stroke-linejoin="round"/>
<line x1="300.75" y1="1340.03" x2="310.25" y2="1340.03" stroke="#000" stroke-width="1.5"/>
<line x1="300.75" y1="1346.94" x2="310.25" y2="1346.94" stroke="#000" stroke-width="1.5"/>
<line x1="466.25" y1="1403.59" x2="475.75" y2="1403.59" stroke="#000" stroke-width="1.5"/>
<line x1="466.25" y1="1410.49" x2="475.75" y2="1410.49" stroke="#000" stroke-width="1.5"/>
<path d="M140.00,1091.55 L144.35,1082.85 L135.65,1082.85 Z" fill="#6b456f"/>
<path d="M305.50,1347.84 L309.85,1339.14 L301.15,1339.14 Z" fill="#6b456f"/>
<path d="M471.00,1411.39 L475.35,1402.69 L466.65,1402.69 Z" fill="#6b456f"/>
<polyline points="140.00,1087.20 222.75,1313.09 305.50,1397.02 471.00,1411.88" fill="none" stroke="#D98F32" stroke-width="2.8" stroke-linejoin="round"/>
<line x1="222.75" y1="1304.46" x2="222.75" y2="1307.89" stroke="#000" stroke-width="1.4"/>
<line x1="222.75" y1="1318.29" x2="222.75" y2="1321.73" stroke="#000" stroke-width="1.4"/>
<line x1="218.00" y1="1304.46" x2="227.50" y2="1304.46" stroke="#000" stroke-width="1.5"/>
<line x1="218.00" y1="1321.73" x2="227.50" y2="1321.73" stroke="#000" stroke-width="1.5"/>
<line x1="305.50" y1="1388.39" x2="305.50" y2="1391.82" stroke="#000" stroke-width="1.4"/>
<line x1="305.50" y1="1402.22" x2="305.50" y2="1405.66" stroke="#000" stroke-width="1.4"/>
<line x1="300.75" y1="1388.39" x2="310.25" y2="1388.39" stroke="#000" stroke-width="1.5"/>
<line x1="300.75" y1="1405.66" x2="310.25" y2="1405.66" stroke="#000" stroke-width="1.5"/>
<line x1="466.25" y1="1408.42" x2="475.75" y2="1408.42" stroke="#000" stroke-width="1.5"/>
<line x1="466.25" y1="1415.33" x2="475.75" y2="1415.33" stroke="#000" stroke-width="1.5"/>
<path d="M140.00,1082.90 L144.30,1091.50 L135.70,1091.50 Z" fill="none" stroke="#D98F32" stroke-width="1.8" stroke-linejoin="miter"/>
<path d="M222.75,1308.79 L227.05,1317.39 L218.45,1317.39 Z" fill="none" stroke="#D98F32" stroke-width="1.8" stroke-linejoin="miter"/>
<path d="M305.50,1392.72 L309.80,1401.32 L301.20,1401.32 Z" fill="none" stroke="#D98F32" stroke-width="1.8" stroke-linejoin="miter"/>
<path d="M471.00,1407.58 L475.30,1416.18 L466.70,1416.18 Z" fill="none" stroke="#D98F32" stroke-width="1.8" stroke-linejoin="miter"/>
<polyline points="140.00,1087.20 222.75,1165.61 305.50,1288.22 471.00,1401.86" fill="none" stroke="#3F7058" stroke-width="2.8" stroke-linejoin="round"/>
<line x1="222.75" y1="1158.01" x2="222.75" y2="1161.26" stroke="#000" stroke-width="1.4"/>
<line x1="222.75" y1="1169.96" x2="222.75" y2="1173.20" stroke="#000" stroke-width="1.4"/>
<line x1="218.00" y1="1158.01" x2="227.50" y2="1158.01" stroke="#000" stroke-width="1.5"/>
<line x1="218.00" y1="1173.20" x2="227.50" y2="1173.20" stroke="#000" stroke-width="1.5"/>
<line x1="305.50" y1="1276.13" x2="305.50" y2="1283.87" stroke="#000" stroke-width="1.4"/>
<line x1="305.50" y1="1292.57" x2="305.50" y2="1300.31" stroke="#000" stroke-width="1.4"/>
<line x1="300.75" y1="1276.13" x2="310.25" y2="1276.13" stroke="#000" stroke-width="1.5"/>
<line x1="300.75" y1="1300.31" x2="310.25" y2="1300.31" stroke="#000" stroke-width="1.5"/>
<line x1="466.25" y1="1398.41" x2="475.75" y2="1398.41" stroke="#000" stroke-width="1.5"/>
<line x1="466.25" y1="1405.31" x2="475.75" y2="1405.31" stroke="#000" stroke-width="1.5"/>
<path d="M140.00,1082.85 L143.70,1087.20 L140.00,1091.55 L136.30,1087.20 Z" fill="#4e7b65"/>
<path d="M222.75,1161.26 L226.45,1165.61 L222.75,1169.96 L219.05,1165.61 Z" fill="#4e7b65"/>
<path d="M305.50,1283.87 L309.20,1288.22 L305.50,1292.57 L301.80,1288.22 Z" fill="#4e7b65"/>
<path d="M471.00,1397.51 L474.70,1401.86 L471.00,1406.21 L467.30,1401.86 Z" fill="#4e7b65"/>
<polyline points="140.00,1087.20 222.75,1197.38 305.50,1343.49 471.00,1429.49" fill="none" stroke="#9889C0" stroke-width="2.8" stroke-linejoin="round"/>
<line x1="222.75" y1="1191.17" x2="222.75" y2="1192.78" stroke="#000" stroke-width="1.4"/>
<line x1="222.75" y1="1201.98" x2="222.75" y2="1203.60" stroke="#000" stroke-width="1.4"/>
<line x1="218.00" y1="1191.17" x2="227.50" y2="1191.17" stroke="#000" stroke-width="1.5"/>
<line x1="218.00" y1="1203.60" x2="227.50" y2="1203.60" stroke="#000" stroke-width="1.5"/>
<line x1="305.50" y1="1335.89" x2="305.50" y2="1338.89" stroke="#000" stroke-width="1.4"/>
<line x1="305.50" y1="1348.09" x2="305.50" y2="1351.09" stroke="#000" stroke-width="1.4"/>
<line x1="300.75" y1="1335.89" x2="310.25" y2="1335.89" stroke="#000" stroke-width="1.5"/>
<line x1="300.75" y1="1351.09" x2="310.25" y2="1351.09" stroke="#000" stroke-width="1.5"/>
<line x1="471.00" y1="1411.53" x2="471.00" y2="1424.89" stroke="#000" stroke-width="1.4"/>
<line x1="471.00" y1="1434.09" x2="471.00" y2="1447.45" stroke="#000" stroke-width="1.4"/>
<line x1="466.25" y1="1411.53" x2="475.75" y2="1411.53" stroke="#000" stroke-width="1.5"/>
<line x1="466.25" y1="1447.45" x2="475.75" y2="1447.45" stroke="#000" stroke-width="1.5"/>
<circle cx="140.00" cy="1087.20" r="3.70" fill="none" stroke="#9889C0" stroke-width="1.8"/>
<circle cx="222.75" cy="1197.38" r="3.70" fill="none" stroke="#9889C0" stroke-width="1.8"/>
<circle cx="305.50" cy="1343.49" r="3.70" fill="none" stroke="#9889C0" stroke-width="1.8"/>
<circle cx="471.00" cy="1429.49" r="3.70" fill="none" stroke="#9889C0" stroke-width="1.8"/>
<polyline points="140.00,1087.20 222.75,1304.80 305.50,1345.21 471.00,1372.85" fill="none" stroke="#5C606C" stroke-width="2.8" stroke-linejoin="round"/>
<line x1="305.50" y1="1333.47" x2="305.50" y2="1339.96" stroke="#000" stroke-width="1.4"/>
<line x1="305.50" y1="1350.46" x2="305.50" y2="1356.96" stroke="#000" stroke-width="1.4"/>
<line x1="300.75" y1="1333.47" x2="310.25" y2="1333.47" stroke="#000" stroke-width="1.5"/>
<line x1="300.75" y1="1356.96" x2="310.25" y2="1356.96" stroke="#000" stroke-width="1.5"/>
<line x1="466.25" y1="1367.66" x2="475.75" y2="1367.66" stroke="#000" stroke-width="1.5"/>
<line x1="466.25" y1="1378.03" x2="475.75" y2="1378.03" stroke="#000" stroke-width="1.5"/>
<path d="M140.00,1091.55 L144.35,1082.85 L135.65,1082.85 Z" fill="none" stroke="#5C606C" stroke-width="1.8"/>
<path d="M222.75,1309.15 L227.10,1300.45 L218.40,1300.45 Z" fill="none" stroke="#5C606C" stroke-width="1.8"/>
<path d="M305.50,1349.56 L309.85,1340.86 L301.15,1340.86 Z" fill="none" stroke="#5C606C" stroke-width="1.8"/>
<path d="M471.00,1377.20 L475.35,1368.50 L466.65,1368.50 Z" fill="none" stroke="#5C606C" stroke-width="1.8"/>
<polyline points="140.00,1087.20 222.75,1304.80 305.50,1338.65 471.00,1360.76" fill="none" stroke="#64A2D6" stroke-width="2.8" stroke-linejoin="round"/>
<line x1="300.75" y1="1335.20" x2="310.25" y2="1335.20" stroke="#000" stroke-width="1.5"/>
<line x1="300.75" y1="1342.11" x2="310.25" y2="1342.11" stroke="#000" stroke-width="1.5"/>
<line x1="466.25" y1="1357.30" x2="475.75" y2="1357.30" stroke="#000" stroke-width="1.5"/>
<line x1="466.25" y1="1364.21" x2="475.75" y2="1364.21" stroke="#000" stroke-width="1.5"/>
<path d="M140.00,1083.35 L143.08,1087.20 L140.00,1091.05 L136.92,1087.20 Z" fill="none" stroke="#64A2D6" stroke-width="1.8"/>
<path d="M222.75,1300.95 L225.83,1304.80 L222.75,1308.65 L219.67,1304.80 Z" fill="none" stroke="#64A2D6" stroke-width="1.8"/>
<path d="M305.50,1334.80 L308.58,1338.65 L305.50,1342.50 L302.42,1338.65 Z" fill="none" stroke="#64A2D6" stroke-width="1.8"/>
<path d="M471.00,1356.91 L474.08,1360.76 L471.00,1364.61 L467.92,1360.76 Z" fill="none" stroke="#64A2D6" stroke-width="1.8"/>
<polyline points="140.00,1087.20 222.75,1300.31 305.50,1383.55 471.00,1417.06" fill="none" stroke="#C42C74" stroke-width="2.8" stroke-linejoin="round"/>
<line x1="222.75" y1="1293.40" x2="222.75" y2="1295.91" stroke="#000" stroke-width="1.4"/>
<line x1="222.75" y1="1304.71" x2="222.75" y2="1307.22" stroke="#000" stroke-width="1.4"/>
<line x1="218.00" y1="1293.40" x2="227.50" y2="1293.40" stroke="#000" stroke-width="1.5"/>
<line x1="218.00" y1="1307.22" x2="227.50" y2="1307.22" stroke="#000" stroke-width="1.5"/>
<line x1="305.50" y1="1376.30" x2="305.50" y2="1379.15" stroke="#000" stroke-width="1.4"/>
<line x1="305.50" y1="1387.95" x2="305.50" y2="1390.81" stroke="#000" stroke-width="1.4"/>
<line x1="300.75" y1="1376.30" x2="310.25" y2="1376.30" stroke="#000" stroke-width="1.5"/>
<line x1="300.75" y1="1390.81" x2="310.25" y2="1390.81" stroke="#000" stroke-width="1.5"/>
<line x1="466.25" y1="1413.60" x2="475.75" y2="1413.60" stroke="#000" stroke-width="1.5"/>
<line x1="466.25" y1="1420.51" x2="475.75" y2="1420.51" stroke="#000" stroke-width="1.5"/>
<path d="M140.00,1083.40 L141.09,1086.30 L144.18,1086.44 L141.76,1088.37 L142.59,1091.36 L140.00,1089.65 L137.41,1091.36 L138.24,1088.37 L135.82,1086.44 L138.91,1086.30 Z" fill="#c93d7f"/>
<path d="M222.75,1296.51 L223.84,1299.42 L226.93,1299.55 L224.51,1301.48 L225.34,1304.47 L222.75,1302.76 L220.16,1304.47 L220.99,1301.48 L218.57,1299.55 L221.66,1299.42 Z" fill="#c93d7f"/>
<path d="M305.50,1379.75 L306.59,1382.66 L309.68,1382.79 L307.26,1384.72 L308.09,1387.71 L305.50,1386.00 L302.91,1387.71 L303.74,1384.72 L301.32,1382.79 L304.41,1382.66 Z" fill="#c93d7f"/>
<path d="M471.00,1413.26 L472.09,1416.16 L475.18,1416.30 L472.76,1418.23 L473.59,1421.22 L471.00,1419.50 L468.41,1421.22 L469.24,1418.23 L466.82,1416.30 L469.91,1416.16 Z" fill="#c93d7f"/>
<line x1="140.00" y1="1072.2" x2="140.00" y2="1082" stroke="#000" stroke-width="1.4"/>
<line x1="140.00" y1="1093" x2="140.00" y2="1103" stroke="#000" stroke-width="1.4"/>
<line x1="135.70" y1="1072.20" x2="144.30" y2="1072.20" stroke="#000" stroke-width="1.7"/>
<line x1="135.70" y1="1077.00" x2="144.30" y2="1077.00" stroke="#000" stroke-width="1.7"/>
<line x1="135.70" y1="1082.00" x2="144.30" y2="1082.00" stroke="#000" stroke-width="1.7"/>
<line x1="135.70" y1="1093.10" x2="144.30" y2="1093.10" stroke="#000" stroke-width="1.7"/>
<line x1="135.70" y1="1098.70" x2="144.30" y2="1098.70" stroke="#000" stroke-width="1.7"/>
<line x1="135.70" y1="1103.00" x2="144.30" y2="1103.00" stroke="#000" stroke-width="1.7"/>
<line x1="328.3" y1="1073.20" x2="351.9" y2="1073.20" stroke="#A32A42" stroke-width="2.6"/>
<circle cx="340.00" cy="1073.20" r="4.00" fill="#aa3b51"/>
<text x="358.25" y="1078.10" font-size="15.56" textLength="22.02" lengthAdjust="spacingAndGlyphs" fill="#000" >Ly1</text>
<line x1="328.3" y1="1093.98" x2="351.9" y2="1093.98" stroke="#3B5A88" stroke-width="2.6"/>
<circle cx="340.00" cy="1093.98" r="4.55" fill="none" stroke="#3B5A88" stroke-width="2.3"/>
<path d="M340.00,1089.43 A4.55,4.55 0 0 1 340.00,1098.53 Z" fill="#3B5A88"/>
<text x="358.17" y="1098.88" font-size="15.56" textLength="31.82" lengthAdjust="spacingAndGlyphs" fill="#000" >Ly19</text>
<line x1="328.3" y1="1114.76" x2="351.9" y2="1114.76" stroke="#6AA64A" stroke-width="2.6"/>
<rect x="335.75" y="1110.51" width="8.5" height="8.5" fill="#76ad58"/>
<text x="358.19" y="1119.66" font-size="15.56" textLength="23.03" lengthAdjust="spacingAndGlyphs" fill="#000" >Ly3</text>
<line x1="328.3" y1="1135.54" x2="351.9" y2="1135.54" stroke="#5E3563" stroke-width="2.6"/>
<path d="M340.00,1139.89 L344.35,1131.19 L335.65,1131.19 Z" fill="#6b456f"/>
<text x="358.18" y="1140.44" font-size="15.56" textLength="37.88" lengthAdjust="spacingAndGlyphs" fill="#000" >DHL6</text>
<line x1="328.3" y1="1156.32" x2="351.9" y2="1156.32" stroke="#D98F32" stroke-width="2.6"/>
<path d="M340.00,1152.02 L344.30,1160.62 L335.70,1160.62 Z" fill="none" stroke="#D98F32" stroke-width="1.8" stroke-linejoin="miter"/>
<text x="358.66" y="1161.22" font-size="15.56" textLength="45.07" lengthAdjust="spacingAndGlyphs" fill="#000" >Granta</text>
<line x1="431.9" y1="1073.20" x2="455.6" y2="1073.20" stroke="#3F7058" stroke-width="2.6"/>
<path d="M443.70,1068.85 L447.40,1073.20 L443.70,1077.55 L440.00,1073.20 Z" fill="#4e7b65"/>
<text x="462.48" y="1078.10" font-size="15.56" textLength="30.84" lengthAdjust="spacingAndGlyphs" fill="#000" >Jeko</text>
<line x1="431.9" y1="1093.98" x2="455.6" y2="1093.98" stroke="#9889C0" stroke-width="2.6"/>
<circle cx="443.70" cy="1093.98" r="3.70" fill="none" stroke="#9889C0" stroke-width="1.8"/>
<text x="461.34" y="1098.88" font-size="15.56" textLength="35.83" lengthAdjust="spacingAndGlyphs" fill="#000" >Mino</text>
<line x1="431.9" y1="1114.76" x2="455.6" y2="1114.76" stroke="#5C606C" stroke-width="2.6"/>
<path d="M443.70,1119.11 L448.05,1110.41 L439.35,1110.41 Z" fill="none" stroke="#5C606C" stroke-width="1.8"/>
<text x="461.48" y="1119.66" font-size="15.56" textLength="34.60" lengthAdjust="spacingAndGlyphs" fill="#000" >K299</text>
<line x1="431.9" y1="1135.54" x2="455.6" y2="1135.54" stroke="#64A2D6" stroke-width="2.6"/>
<path d="M443.70,1131.69 L446.78,1135.54 L443.70,1139.39 L440.62,1135.54 Z" fill="none" stroke="#64A2D6" stroke-width="1.8"/>
<text x="461.47" y="1140.44" font-size="15.56" textLength="36.43" lengthAdjust="spacingAndGlyphs" fill="#000" >MyLa</text>
<line x1="431.9" y1="1156.32" x2="455.6" y2="1156.32" stroke="#C42C74" stroke-width="2.6"/>
<path d="M443.70,1152.52 L444.79,1155.42 L447.88,1155.56 L445.46,1157.49 L446.29,1160.48 L443.70,1158.77 L441.11,1160.48 L441.94,1157.49 L439.52,1155.56 L442.61,1155.42 Z" fill="#c93d7f"/>
<text x="462.06" y="1161.22" font-size="15.56" textLength="34.12" lengthAdjust="spacingAndGlyphs" fill="#000" >SeAx</text>
<rect x="0" y="0" width="1" height="1529" fill="#b8b8b8"/>
<rect x="1" y="0" width="2" height="1529" fill="#000"/>
<rect x="517" y="0" width="2" height="1529" fill="#000"/>
<rect x="519" y="0" width="1" height="1529" fill="#bcbcbc"/>
<rect x="1" y="0" width="519" height="2" fill="#0a0a0a"/>
<rect x="1" y="1527" width="519" height="2" fill="#0a0a0a"/>
</svg></body></html>
